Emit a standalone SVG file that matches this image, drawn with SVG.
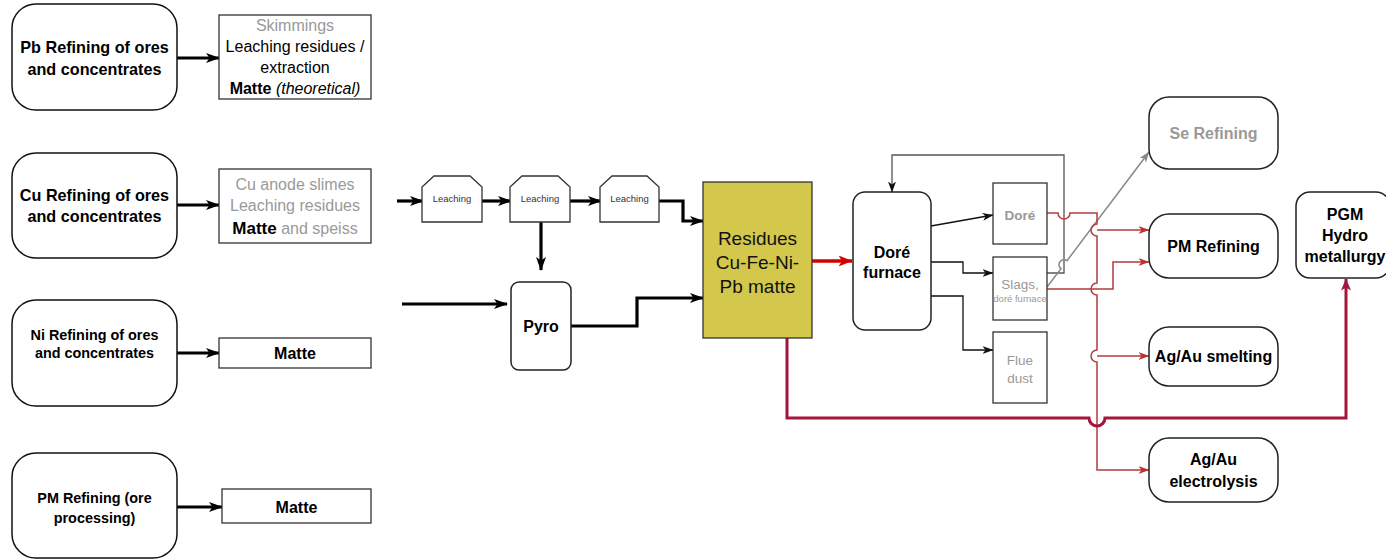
<svg xmlns="http://www.w3.org/2000/svg" width="1386" height="560" viewBox="0 0 1386 560">
<style>
text{font-family:"Liberation Sans",Arial,Helvetica,sans-serif;text-anchor:middle}
.src{fill:#fff;stroke:#111;stroke-width:1.5}
.box{fill:#fff;stroke:#333;stroke-width:1.3}
.rb{fill:#fff;stroke:#222;stroke-width:1.5}
.b15{font-size:16.2px;font-weight:bold;fill:#000}
.b13{font-size:14.4px;font-weight:bold;fill:#000}
.b16{font-size:16px;font-weight:bold;fill:#000}
.t15{font-size:16px;fill:#000}
.g{fill:#999}
.lt{font-size:9.5px;fill:#333}
.gt{font-size:13.5px;fill:#999}
.thick{fill:none;stroke:#000;stroke-width:3.2}
.thin{fill:none;stroke:#111;stroke-width:1.3}
.red{fill:none;stroke:#B23B3B;stroke-width:1.5}
</style>
<defs>
<marker id="mb" markerUnits="userSpaceOnUse" markerWidth="14" markerHeight="10" viewBox="0 0 14 10" refX="13" refY="5" orient="auto"><path d="M0,0 L14,5 L0,10 L3.5,5 Z" fill="#000"/></marker>
<marker id="mk" markerUnits="userSpaceOnUse" markerWidth="11" markerHeight="8" viewBox="0 0 11 8" refX="10.5" refY="4" orient="auto"><path d="M0,0 L11,4 L0,8 L3,4 Z" fill="#111"/></marker>
<marker id="mr" markerUnits="userSpaceOnUse" markerWidth="11" markerHeight="8" viewBox="0 0 11 8" refX="10.5" refY="4" orient="auto"><path d="M0,0 L11,4 L0,8 L3,4 Z" fill="#C03030"/></marker>
<marker id="mg" markerUnits="userSpaceOnUse" markerWidth="11" markerHeight="8" viewBox="0 0 11 8" refX="10.5" refY="4" orient="auto"><path d="M0,0 L11,4 L0,8 L3,4 Z" fill="#888"/></marker>
<marker id="mc" markerUnits="userSpaceOnUse" markerWidth="12" markerHeight="10" viewBox="0 0 12 10" refX="11.5" refY="5" orient="auto"><path d="M0,0 L12,5 L0,10 L3,5 Z" fill="#A3153D"/></marker>
<marker id="mx" markerUnits="userSpaceOnUse" markerWidth="14" markerHeight="11" viewBox="0 0 14 11" refX="13.5" refY="5.5" orient="auto"><path d="M0,0 L14,5.5 L0,11 L3.5,5.5 Z" fill="#D40000"/></marker>
</defs>

<g id="connectors">
<path class="thick" d="M177,58 H219" marker-end="url(#mb)"/>
<path class="thick" d="M177,205 H219" marker-end="url(#mb)"/>
<path class="thick" d="M177,353 H219" marker-end="url(#mb)"/>
<path class="thick" d="M177,507 H222" marker-end="url(#mb)"/>
<path class="thick" d="M397,201 H423" marker-end="url(#mb)"/>
<path class="thick" d="M482,201 H511" marker-end="url(#mb)"/>
<path class="thick" d="M570,201 H601" marker-end="url(#mb)"/>
<path class="thick" d="M659,201 H683 V221 H703" marker-end="url(#mb)"/>
<path class="thick" d="M541,222 V270" marker-end="url(#mb)"/>
<path class="thick" d="M402,304 H507" marker-end="url(#mb)"/>
<path class="thick" d="M571,326 H637 V298 H703" marker-end="url(#mb)"/>
<path fill="none" stroke="#D40000" stroke-width="3.5" d="M812,261 H852" marker-end="url(#mx)"/>
<path class="thin" d="M931,226 L993,215" marker-end="url(#mk)"/>
<path class="thin" d="M931,262 H963 V273 H993" marker-end="url(#mk)"/>
<path class="thin" d="M931,296 H963 V350 H993" marker-end="url(#mk)"/>
<path fill="none" stroke="#555" stroke-width="1.3" d="M1047,273 H1064 V155 H892 V192" marker-end="url(#mk)"/>
<path fill="none" stroke="#888" stroke-width="1.5" d="M1047,287 L1061,268.7 A5,5 0 0 1 1067,260.7 L1149,152" marker-end="url(#mg)"/>
<path class="red" d="M1047,213 H1058 A6,6 0 0 0 1070,213 H1097 V224 A6,6 0 0 0 1097,236 V283 A6,6 0 0 0 1097,295 V350 A6,6 0 0 0 1097,362 V470 H1149" marker-end="url(#mr)"/>
<path class="red" d="M1097,230 H1149" marker-end="url(#mr)"/>
<path class="red" d="M1097,356 H1149" marker-end="url(#mr)"/>
<path class="red" d="M1047,289 H1113 V262 H1149" marker-end="url(#mr)"/>
<path fill="none" stroke="#A3153D" stroke-width="3" d="M787,338 V418 H1089 A8,8 0 0 0 1105,418 H1346 V279" marker-end="url(#mc)"/>
</g>

<g id="pb-src"><rect class="src" x="12" y="4" width="165" height="106" rx="24"/>
<text class="b15" x="94.5" y="53">Pb Refining of ores</text><text class="b15" x="94.5" y="75">and concentrates</text></g>
<g id="pb-out"><rect class="box" x="219" y="15" width="152" height="84"/>
<text class="t15 g" x="295" y="31">Skimmings</text>
<text class="t15" x="295" y="52">Leaching residues /</text>
<text class="t15" x="295" y="73">extraction</text>
<text class="t15" x="295" y="94"><tspan font-weight="bold">Matte</tspan> <tspan font-style="italic">(theoretical)</tspan></text></g>

<g id="cu-src"><rect class="src" x="12" y="153" width="165" height="105" rx="24"/>
<text class="b15" x="94.5" y="201">Cu Refining of ores</text><text class="b15" x="94.5" y="222">and concentrates</text></g>
<g id="cu-out"><rect class="box" x="219" y="169" width="152" height="74"/>
<text class="t15 g" x="295" y="190">Cu anode slimes</text>
<text class="t15 g" x="295" y="211">Leaching residues</text>
<text class="t15 g" x="295" y="234"><tspan font-weight="bold" fill="#000" font-size="17px">Matte</tspan> and speiss</text></g>

<g id="ni-src"><rect class="src" x="12" y="300" width="165" height="106" rx="24"/>
<text class="b13" x="94.5" y="340">Ni Refining of ores</text><text class="b13" x="94.5" y="358">and concentrates</text></g>
<g id="ni-out"><rect class="box" x="219" y="338" width="152" height="30"/>
<text class="b16" x="295" y="359">Matte</text></g>

<g id="pm-src"><rect class="src" x="12" y="453" width="165" height="105" rx="24"/>
<text class="b13" x="94.5" y="503">PM Refining (ore</text><text class="b13" x="94.5" y="523">processing)</text></g>
<g id="pm-out"><rect class="box" x="222" y="489" width="149" height="34"/>
<text class="b16" x="296.5" y="513">Matte</text></g>

<g id="leach1"><path class="box" d="M422,222 V187 L434,176 H470 L482,187 V222 Z"/><text class="lt" x="452" y="202">Leaching</text></g>
<g id="leach2"><path class="box" d="M510,222 V187 L522,176 H558 L570,187 V222 Z"/><text class="lt" x="540" y="202">Leaching</text></g>
<g id="leach3"><path class="box" d="M600,222 V187 L612,176 H647 L659,187 V222 Z"/><text class="lt" x="629.5" y="202">Leaching</text></g>

<g id="pyro"><rect class="rb" x="511" y="282" width="60" height="88" rx="8"/><text class="b16" x="541" y="332">Pyro</text></g>

<g id="residues"><rect x="703" y="182" width="109" height="156" fill="#D3C84B" stroke="#333" stroke-width="1.3"/>
<text x="757.5" y="245" font-size="19px" fill="#111">Residues</text>
<text x="757.5" y="269" font-size="19px" fill="#111">Cu-Fe-Ni-</text>
<text x="757.5" y="293" font-size="19px" fill="#111">Pb matte</text></g>

<g id="dore-furnace"><rect class="rb" x="853" y="192" width="78" height="138" rx="12"/>
<text class="b16" x="892" y="258">Doré</text><text class="b16" x="892" y="278">furnace</text></g>

<g id="dore"><rect class="box" x="993" y="183" width="54" height="61"/><text class="gt" x="1020" y="220" font-weight="bold">Doré</text></g>
<g id="slags"><rect class="box" x="993" y="257" width="54" height="63"/>
<text class="gt" x="1020" y="289">Slags,</text><text x="1020" y="302" font-size="9.5px" fill="#999">doré furnace</text></g>
<g id="flue"><rect class="box" x="993" y="332" width="54" height="71"/>
<text class="gt" x="1020" y="365">Flue</text><text class="gt" x="1020" y="383">dust</text></g>

<g id="se"><rect class="rb" x="1149" y="97" width="129" height="72" rx="20"/><text class="b16" x="1213.5" y="139" style="fill:#999">Se Refining</text></g>
<g id="pmr"><rect class="rb" x="1149" y="214" width="129" height="64" rx="20"/><text class="b16" x="1213.5" y="252">PM Refining</text></g>
<g id="smelt"><rect class="rb" x="1149" y="327" width="129" height="59" rx="20"/><text class="b16" x="1213.5" y="362">Ag/Au smelting</text></g>
<g id="electro"><rect class="rb" x="1149" y="438" width="129" height="64" rx="20"/>
<text class="b16" x="1213.5" y="465">Ag/Au</text><text class="b16" x="1213.5" y="487">electrolysis</text></g>
<g id="pgm"><rect class="rb" x="1296" y="192" width="94" height="86" rx="14"/>
<text class="b16" x="1345" y="220">PGM</text><text class="b16" x="1345" y="241">Hydro</text><text class="b16" x="1345" y="262">metallurgy</text></g>
</svg>
